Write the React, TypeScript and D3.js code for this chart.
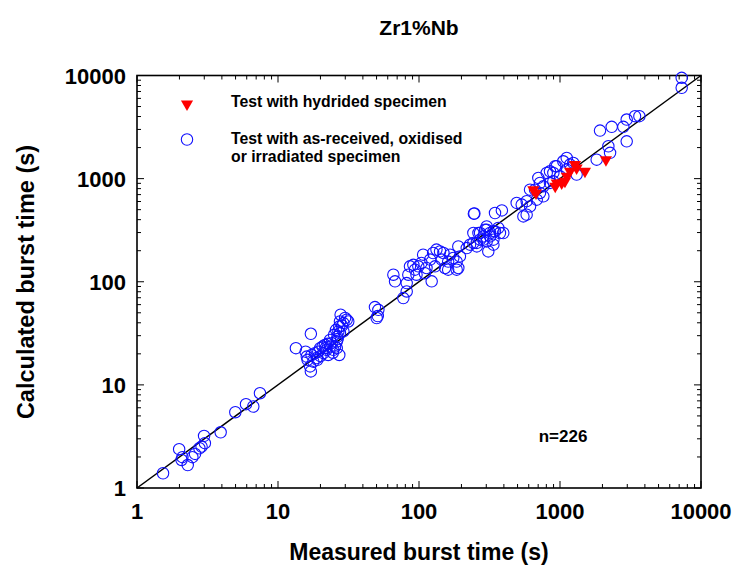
import React, { useEffect, useRef } from "react";
import * as d3 from "d3";

// as-received, oxidised or irradiated specimens (measured s, calculated s)
const measuredOther = [
  1.53, 1.99, 2.1, 2.07, 2.29, 2.47, 2.58, 2.77, 2.87, 2.99, 3.03, 3.92, 4.98, 5.93, 6.68, 7.45,
  13.4, 17.1, 15.7, 16.0, 16.2, 16.9, 17.1, 17.3, 18.3, 19.3, 19.9, 20.7, 21.5, 22.1, 22.7, 23.4,
  24.0, 24.7, 25.4, 26.1, 26.4, 26.8, 27.2, 27.5, 27.8, 29.1, 29.9, 30.7, 31.5, 27.2, 26.1, 25.0,
  25.8, 27.5, 21.0, 18.8, 17.8, 23.4, 29.1, 20.0, 22.5, 24.5, 28.5, 26.5, 19.0, 21.8,
  48.7, 51.5, 50.1, 51.0,
  65.8, 67.6, 77.4, 81.8, 81.8, 84, 86.3, 91.2, 93.7, 98.9, 104, 107, 110, 113, 120, 123, 126, 130,
  133, 141, 145, 149, 153, 161, 166, 175, 185, 190, 190, 195, 218, 230, 243, 257, 264, 271, 286,
  294, 302, 310, 319, 337, 346, 302, 96, 161, 185, 271, 302, 337, 365, 375, 319, 286, 257, 337,
  396, 243,
  245, 247, 346, 387, 493, 535, 550, 580, 613, 684, 762, 721,
  665, 613, 721, 702, 805, 849, 897, 948, 1055, 1116, 1178, 1243, 1312, 849, 762, 580, 1820, 2203,
  2265, 2972, 1000, 897, 925, 1116, 7295, 7295, 2327, 2813, 2972, 3404, 3656, 1922
];
const calculatedOther = [
  1.39, 2.38, 1.99, 1.87, 1.67, 1.99, 2.14, 2.43, 2.52, 3.2, 2.72, 3.47, 5.43, 6.5, 6.17, 8.3,
  22.7, 31.3, 21, 18.8, 17.5, 15.1, 13.5, 19.5, 20.3, 21, 22.7, 23.5, 24.4, 21.9, 19.5, 23.5,
  25.4, 21.9, 23.5, 26.3, 29.4, 33, 36.8, 41.2, 47.9, 39.7, 44.5, 42.8, 41.2, 19.5, 22.7, 30.6,
  34.2, 31.8, 20.3, 18.2, 16.8, 27.3, 33, 19.0, 25.0, 20.5, 37.5, 27.8, 17.5, 22.8,
  56.8, 53.4, 44.5, 46.5,
  117, 101, 69.5, 80.5, 97, 117, 141, 146, 131, 141, 152, 183, 121, 136, 164, 101, 190, 141,
  205, 197, 164, 190, 136, 157, 183, 170, 157, 220, 136, 176, 212, 229, 238, 220, 297, 256, 275,
  320, 344, 197, 297, 256, 308, 246, 117, 131, 131, 297, 320, 308, 332, 297, 275, 256, 238, 229,
  297, 297,
  457, 459, 464, 492, 581, 560, 430, 447, 538, 625, 673, 726,
  782, 782, 908, 1016, 1135, 1178, 1135, 1318, 1473, 1589, 1367, 1420, 1094, 908, 842, 604, 1528, 2060,
  1778, 2301, 1052, 942, 1318, 1222, 9500, 7600, 3177, 3177, 3741, 4030, 4030, 2924
];

// hydrided specimens
const measuredHydrided = [647, 676, 948, 1028, 1084, 1116, 1277, 1312, 1503, 2118, 925, 1178];
const calculatedHydrided = [782, 726, 908, 908, 942, 1052, 1367, 1270, 1178, 1528, 842, 1178];

const decades = [1, 10, 100, 1000, 10000];
const decadeLabels = ["1", "10", "100", "1000", "10000"];

const FONT = "'Liberation Sans', Arial, sans-serif";

export default function App() {
  const ref = useRef<SVGSVGElement>(null);

  useEffect(() => {
    const svg = d3.select(ref.current);
    svg.selectAll("*").remove();

    const left = 137, right = 701, top = 75.5, bottom = 488;
    const x = d3.scaleLog().domain([1, 10000]).range([left, right]);
    const y = d3.scaleLog().domain([1, 10000]).range([bottom, top]);

    const allTicks = x.ticks();
    const minor = allTicks.filter((t) => !decades.includes(t));

    const g = svg.append("g");

    // ticks on all four sides, pointing inward
    const tickLayer = g.append("g").attr("stroke", "#000").attr("stroke-width", 1);
    const drawTicks = (vals: number[], len: number) => {
      vals.forEach((v) => {
        tickLayer.append("line").attr("x1", x(v)).attr("x2", x(v)).attr("y1", bottom).attr("y2", bottom - len);
        tickLayer.append("line").attr("x1", x(v)).attr("x2", x(v)).attr("y1", top).attr("y2", top + len);
        tickLayer.append("line").attr("y1", y(v)).attr("y2", y(v)).attr("x1", left).attr("x2", left + len);
        tickLayer.append("line").attr("y1", y(v)).attr("y2", y(v)).attr("x1", right).attr("x2", right - len);
      });
    };
    drawTicks(minor, 4);
    drawTicks(decades, 7);

    // 1:1 line
    g.append("line")
      .attr("x1", x(1)).attr("y1", y(1))
      .attr("x2", x(10000)).attr("y2", y(10000))
      .attr("stroke", "#000").attr("stroke-width", 1.5);

    // frame
    g.append("rect")
      .attr("x", left).attr("y", top)
      .attr("width", right - left).attr("height", bottom - top)
      .attr("fill", "none").attr("stroke", "#000").attr("stroke-width", 1.6);

    // blue circles
    g.append("g").selectAll("circle")
      .data(measuredOther)
      .enter()
      .append("circle")
      .attr("cx", (d) => x(d))
      .attr("cy", (d, i) => y(calculatedOther[i]))
      .attr("r", 5.7)
      .attr("fill", "none")
      .attr("stroke", "#1010ff")
      .attr("stroke-width", 1.1);

    // red triangles
    const tri = d3.symbol().type(d3.symbolTriangle).size(64);
    g.append("g").selectAll("path")
      .data(measuredHydrided)
      .enter()
      .append("path")
      .attr("d", tri() as string)
      .attr("transform", (d, i) => `translate(${x(d)},${y(calculatedHydrided[i])}) rotate(180)`)
      .attr("fill", "#ff0000");

    // legend
    g.append("path").attr("d", tri() as string)
      .attr("transform", "translate(187,104) rotate(180)")
      .attr("fill", "#ff0000");
    g.append("circle").attr("cx", 187).attr("cy", 139.5).attr("r", 5.7)
      .attr("fill", "none").attr("stroke", "#1010ff").attr("stroke-width", 1.1);

    const text = (tx: number, ty: number, s: string, size: number, anchor = "start") =>
      g.append("text")
        .attr("x", tx).attr("y", ty)
        .attr("font-family", FONT).attr("font-weight", "bold")
        .attr("font-size", size).attr("text-anchor", anchor)
        .attr("fill", "#000")
        .text(s);

    text(231, 107, "Test with hydrided specimen", 15.8);
    text(231, 144, "Test with as-received, oxidised", 15.8);
    text(231, 162, "or irradiated specimen", 15.8);

    // tick labels
    decades.forEach((d, i) => {
      text(x(d), 519, decadeLabels[i], 22, "middle");
      text(126, y(d) + 8, decadeLabels[i], 22, "end");
    });

    text(419, 35, "Zr1%Nb", 21, "middle");
    text(419, 560, "Measured burst time (s)", 23, "middle");
    g.append("text")
      .attr("transform", "translate(34,282) rotate(-90)")
      .attr("font-family", FONT).attr("font-weight", "bold")
      .attr("font-size", 23.5).attr("text-anchor", "middle")
      .text("Calculated burst time (s)");

    text(563, 442, "n=226", 17, "middle");
  }, []);

  return (
    <svg
      ref={ref}
      width={736}
      height={567}
      style={{ position: "absolute", left: 0, top: 0, background: "#fff" }}
    />
  );
}
